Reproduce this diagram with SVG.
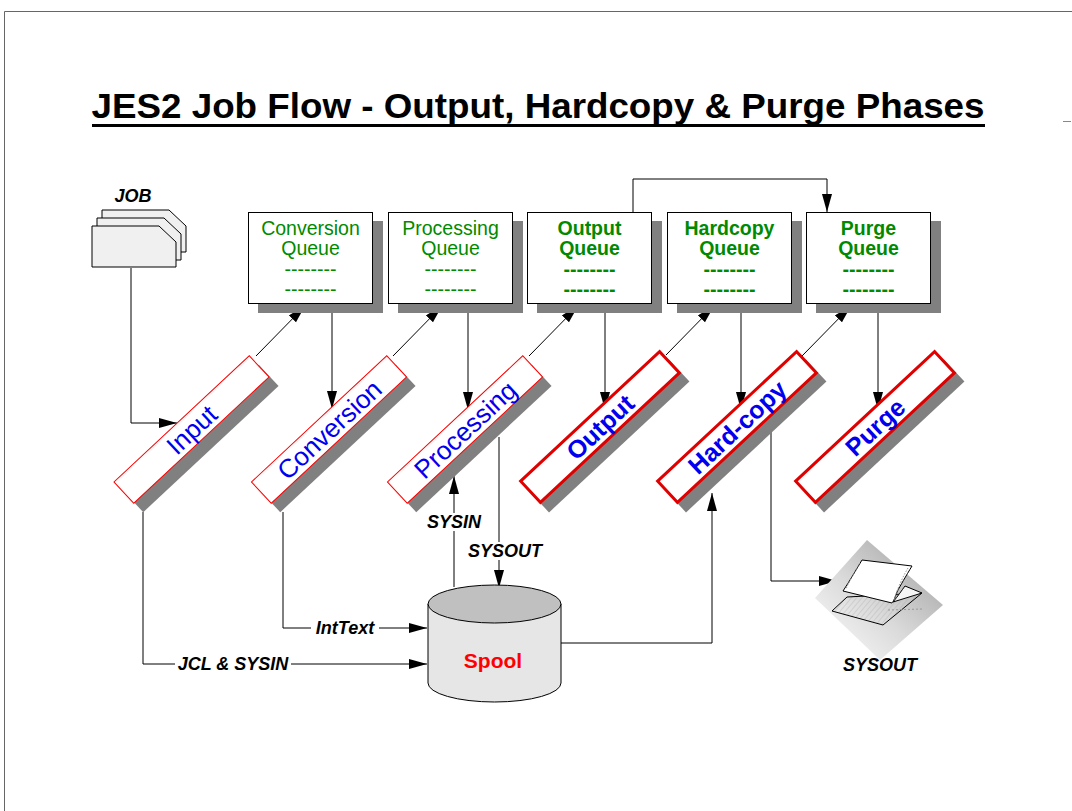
<svg xmlns="http://www.w3.org/2000/svg" width="1072" height="811" viewBox="0 0 1072 811">
  <defs>
    <style>
      text { font-family: "Liberation Sans", Arial, sans-serif; }
      .title { font-size: 35px; font-weight: bold; fill: #000; }
      .q { font-size: 19.5px; fill: #008a00; text-anchor: middle; }
      .qb { font-size: 19.5px; font-weight: bold; fill: #008a00; text-anchor: middle; }
      .qbox { fill: #fff; stroke: #000; stroke-width: 1; }
      .shadow { fill: #808080; }
      .bar { fill: #fff; stroke: #ff0000; stroke-width: 1; }
      .barb { fill: #fff; stroke: #e00000; stroke-width: 3; }
      .bt { font-size: 26px; fill: #0000ee; text-anchor: middle; }
      .btb { font-size: 25px; font-weight: bold; fill: #0000ee; text-anchor: middle; }
      .lbl { font-size: 18px; font-weight: bold; font-style: italic; fill: #000; text-anchor: middle; }
      .conn { fill: none; stroke: #000; stroke-width: 1; marker-end: url(#arr); }
      .frame { fill: none; stroke: #666; stroke-width: 1; }
    </style>
    <marker id="arr" markerUnits="userSpaceOnUse" markerWidth="20" markerHeight="12" refX="18" refY="5" orient="auto">
      <path d="M0,0 L18,5 L0,10 z" fill="#000"/>
    </marker>
    <linearGradient id="pg" x1="1" y1="0" x2="0" y2="1">
      <stop offset="0" stop-color="#9a9a9a"/>
      <stop offset="0.55" stop-color="#dadada"/>
      <stop offset="1" stop-color="#ffffff"/>
    </linearGradient>
    <pattern id="hatch" patternUnits="userSpaceOnUse" width="4" height="4" patternTransform="rotate(40)">
      <line x1="0" y1="0" x2="0" y2="4" stroke="#aaa" stroke-width="0.7"/>
    </pattern>
  </defs>

  <!-- page frame -->
  <path class="frame" d="M4.5,811 V11.5 H1072"/>
  <line x1="1063" y1="121.5" x2="1071" y2="121.5" stroke="#888" stroke-width="1"/>

  <!-- title -->
  <g id="title">
    <text class="title" x="538" y="118" text-anchor="middle" textLength="893" lengthAdjust="spacingAndGlyphs">JES2 Job Flow - Output, Hardcopy &amp; Purge Phases</text>
    <rect x="92" y="124" width="893" height="3" fill="#000"/>
  </g>

  <!-- connectors -->
  <g id="connectors">
    <!-- job deck into input -->
    <polyline class="conn" points="131,268 131,423 177,423"/>
    <!-- bars up to queues -->
    <line class="conn" x1="256" y1="356" x2="305" y2="306"/>
    <line class="conn" x1="393" y1="356" x2="442" y2="306"/>
    <line class="conn" x1="529" y1="356" x2="578" y2="306"/>
    <line class="conn" x1="666" y1="355" x2="714" y2="306"/>
    <line class="conn" x1="802" y1="356" x2="851" y2="306"/>
    <!-- queues down to bars -->
    <line class="conn" x1="332" y1="313" x2="332" y2="409"/>
    <line class="conn" x1="468" y1="313" x2="468" y2="410"/>
    <line class="conn" x1="605" y1="313" x2="605" y2="410"/>
    <line class="conn" x1="741" y1="313" x2="741" y2="410"/>
    <line class="conn" x1="878" y1="313" x2="878" y2="410"/>
    <!-- output queue to purge queue -->
    <polyline class="conn" points="633,212 633,179 827,179 827,212"/>
    <!-- input to spool -->
    <polyline class="conn" points="143,512 143,664 427,664"/>
    <!-- conversion to spool -->
    <polyline class="conn" points="283,512 283,628 427,628"/>
    <!-- spool to processing (SYSIN) -->
    <line class="conn" x1="454" y1="587" x2="454" y2="476"/>
    <!-- processing to spool (SYSOUT) -->
    <line class="conn" x1="499" y1="437" x2="499" y2="588"/>
    <!-- spool to hard-copy -->
    <polyline class="conn" points="561,643 712,643 712,493"/>
    <!-- hard-copy to printer -->
    <polyline class="conn" points="771,432 771,581 837,581"/>
    <!-- connector labels -->
    <rect x="175" y="656" width="116" height="17" fill="#fff"/>
    <text class="lbl" x="233" y="670">JCL &amp; SYSIN</text>
    <rect x="311" y="620" width="68" height="16" fill="#fff"/>
    <text class="lbl" x="345" y="634">IntText</text>
    <rect x="425" y="513" width="59" height="18" fill="#fff"/>
    <text class="lbl" x="454" y="528">SYSIN</text>
    <rect x="465" y="542" width="80" height="18" fill="#fff"/>
    <text class="lbl" x="505" y="557">SYSOUT</text>
  </g>

  <!-- job deck -->
  <g id="job">
    <path d="M102,210 H169 L186,226 V252 H102 z" fill="#f0f0f0" stroke="#000"/>
    <path d="M97,218 H164 L181,234 V260 H97 z" fill="#f0f0f0" stroke="#000"/>
    <path d="M92,226 H159 L176,242 V267 H92 z" fill="#f0f0f0" stroke="#000"/>
    <text class="lbl" x="133" y="202">JOB</text>
  </g>

  <!-- queues -->
  <g id="q-conversion">
    <rect class="shadow" x="258" y="221" width="125" height="92"/>
    <rect class="qbox" x="248.5" y="212.5" width="124" height="91"/>
    <text class="q" x="310.5" y="235">Conversion</text>
    <text class="q" x="310.5" y="255">Queue</text>
    <text class="q" x="310.5" y="276">--------</text>
    <text class="q" x="310.5" y="296">--------</text>
  </g>
  <g id="q-processing">
    <rect class="shadow" x="398" y="221" width="125" height="92"/>
    <rect class="qbox" x="388.5" y="212.5" width="124" height="91"/>
    <text class="q" x="450.5" y="235">Processing</text>
    <text class="q" x="450.5" y="255">Queue</text>
    <text class="q" x="450.5" y="276">--------</text>
    <text class="q" x="450.5" y="296">--------</text>
  </g>
  <g id="q-output">
    <rect class="shadow" x="537" y="221" width="125" height="92"/>
    <rect class="qbox" x="527.5" y="212.5" width="124" height="91"/>
    <text class="qb" x="589.5" y="235">Output</text>
    <text class="qb" x="589.5" y="255">Queue</text>
    <text class="qb" x="589.5" y="276">--------</text>
    <text class="qb" x="589.5" y="296">--------</text>
  </g>
  <g id="q-hardcopy">
    <rect class="shadow" x="677" y="221" width="125" height="92"/>
    <rect class="qbox" x="667.5" y="212.5" width="124" height="91"/>
    <text class="qb" x="729.5" y="235">Hardcopy</text>
    <text class="qb" x="729.5" y="255">Queue</text>
    <text class="qb" x="729.5" y="276">--------</text>
    <text class="qb" x="729.5" y="296">--------</text>
  </g>
  <g id="q-purge">
    <rect class="shadow" x="816" y="221" width="125" height="92"/>
    <rect class="qbox" x="806.5" y="212.5" width="124" height="91"/>
    <text class="qb" x="868.5" y="235">Purge</text>
    <text class="qb" x="868.5" y="255">Queue</text>
    <text class="qb" x="868.5" y="276">--------</text>
    <text class="qb" x="868.5" y="296">--------</text>
  </g>

  <!-- phase bars -->
  <g id="p-input">
    <rect class="shadow" x="-92.5" y="-14.5" width="185" height="29" transform="translate(201,438.5) rotate(-43)"/>
    <g transform="translate(191.5,429.5) rotate(-43)">
      <rect class="bar" x="-92.5" y="-14.5" width="185" height="29"/>
      <text class="bt" x="0" y="9.5">Input</text>
    </g>
  </g>
  <g id="p-conversion">
    <rect class="shadow" x="-92.5" y="-14.5" width="185" height="29" transform="translate(338,438.5) rotate(-43)"/>
    <g transform="translate(329,429.5) rotate(-43)">
      <rect class="bar" x="-92.5" y="-14.5" width="185" height="29"/>
      <text class="bt" x="0" y="9.5">Conversion</text>
    </g>
  </g>
  <g id="p-processing">
    <rect class="shadow" x="-92.5" y="-14.5" width="185" height="29" transform="translate(474,438.5) rotate(-43)"/>
    <g transform="translate(465,429.5) rotate(-43)">
      <rect class="bar" x="-92.5" y="-14.5" width="185" height="29"/>
      <text class="bt" x="0" y="9.5">Processing</text>
    </g>
  </g>
  <g id="p-output">
    <rect class="shadow" x="-96" y="-15" width="192" height="30" transform="translate(609,436) rotate(-43)"/>
    <g transform="translate(600,427) rotate(-43)">
      <rect class="barb" x="-95" y="-14.5" width="190" height="29"/>
      <text class="btb" x="0" y="9">Output</text>
    </g>
  </g>
  <g id="p-hardcopy">
    <rect class="shadow" x="-96" y="-15" width="192" height="30" transform="translate(746,436) rotate(-43)"/>
    <g transform="translate(737,427) rotate(-43)">
      <rect class="barb" x="-95" y="-14.5" width="190" height="29"/>
      <text class="btb" x="0" y="9">Hard-copy</text>
    </g>
  </g>
  <g id="p-purge">
    <rect class="shadow" x="-96" y="-15" width="192" height="30" transform="translate(884,436) rotate(-43)"/>
    <g transform="translate(875,427) rotate(-43)">
      <rect class="barb" x="-95" y="-14.5" width="190" height="29"/>
      <text class="btb" x="0" y="9">Purge</text>
    </g>
  </g>

  <!-- spool data set -->
  <g id="spool">
    <path d="M428,604 V683 A66.5,19 0 0 0 561,683 V604 z" fill="#e6e6e6" stroke="#000"/>
    <ellipse cx="494.5" cy="604" rx="66.5" ry="19" fill="#c0c0c0" stroke="#000"/>
    <text x="493" y="668" text-anchor="middle" style="font-size:21px;font-weight:bold;fill:#ff0000">Spool</text>
  </g>

  <!-- printed output -->
  <g id="printer">
    <polygon points="867,540 943,605 880,660 815,598" fill="url(#pg)"/>
    <!-- lower stacked sheet -->
    <path d="M832,611 L847,597 L922,593 L883,625 z" fill="url(#hatch)" stroke="#000" stroke-width="1"/>
    <path d="M888,610 L922,609" stroke="#999" stroke-dasharray="2,2" fill="none"/>
    <!-- fold -->
    <path d="M893,602 C898,596 902,590 905,586 L922,593 L893,602 z" fill="#f4f4f4" stroke="#000"/>
    <!-- upper sheet -->
    <path d="M862,560 L912,566 C906,576 900,586 897,592 C895,598 893,602 892,603 L843,591 C849,582 856,570 862,560 z" fill="#fff" stroke="#000" stroke-width="1"/>
    <path d="M908,568 C902,578 897,590 894,600" stroke="#999" stroke-dasharray="1.5,1.5" fill="none"/>
    <path d="M860,563 C854,573 849,582 846,589" stroke="#999" stroke-dasharray="1.5,1.5" fill="none"/>
    <text class="lbl" x="880" y="671">SYSOUT</text>
  </g>
</svg>
